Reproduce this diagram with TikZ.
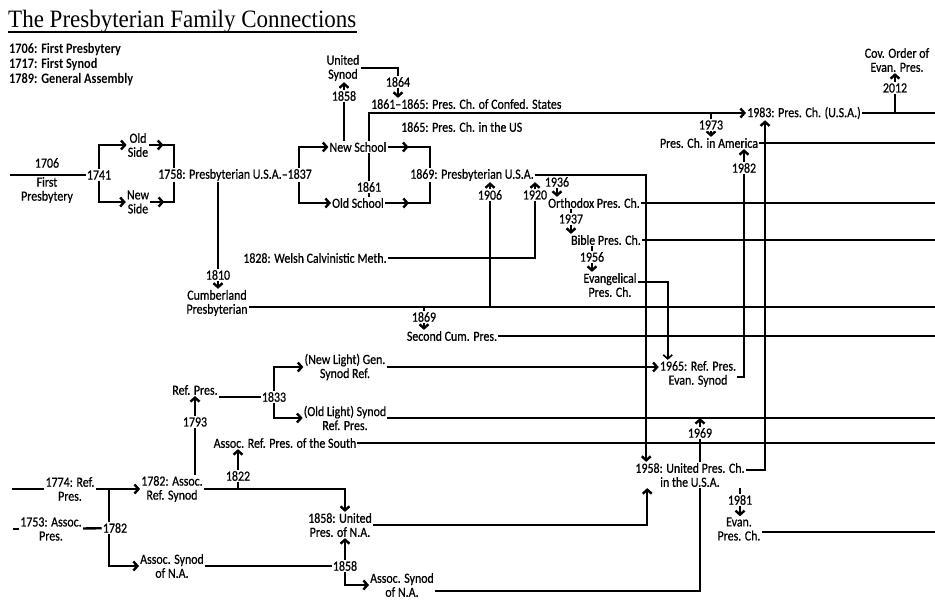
\documentclass[tikz,border=0pt]{standalone}
\usepackage{fontspec}
\setmainfont{Carlito}
\newfontfamily\lblfont{Carlito}[FakeBold=0.6, FakeStretch=0.85]
\newfontfamily\keyfont{Carlito}[FakeStretch=0.85]
\newfontfamily\titlefont{Liberation Serif}[FakeStretch=0.92]
\usetikzlibrary{backgrounds,arrows.meta}

\begin{document}
\begin{tikzpicture}
 [x=1pt, y=-1pt, >={Straight Barb[length=4pt,width=9pt]},
  lbl/.style={inner sep=1pt, fill=white, align=center, font=\lblfont\fontsize{14}{14}\selectfont},
  keyline/.style={anchor=west, inner sep=0pt, font=\keyfont\fontsize{14.5}{14}\selectfont\bfseries},
  link/.style={line width=2.4pt},
  thinlink/.style={line width=1.6pt},
  arr/.style={->, line width=2.4pt}]

\useasboundingbox (0,0) rectangle (935,601);

\node[anchor=base west, inner sep=0pt, font=\fontsize{25}{25}\selectfont\titlefont] (title) at (8,28) {The Presbyterian Family Connections};
\node[keyline] (leg1) at (9,50) {1706: First Presbytery};
\node[keyline] (leg2) at (9,65) {1717: First Synod};
\node[keyline] (leg3) at (9,80) {1789: General Assembly};

\node[lbl] (n1706) at (47,163) {1706};
\node[lbl] (firstp) at (47,190) {First\\Presbytery};
\node[lbl] (n1741) at (99,175) {1741};
\node[lbl] (oldside) at (138,145) {Old\\Side};
\node[lbl] (newside) at (138,202) {New\\Side};
\node[lbl] (n1758) at (235,175) {1758: Presbyterian U.S.A.\textendash1837};
\node[lbl] (n1810) at (218,275) {1810};
\node[lbl] (cumb) at (217,303) {Cumberland\\Presbyterian};
\node[lbl] (newschool) at (358,147) {New School};
\node[lbl] (oldschool) at (358,203) {Old School};
\node[lbl] (n1861) at (369,187) {1861};
\node[lbl] (unisyn) at (343,68) {United\\Synod};
\node[lbl] (n1858a) at (344,96) {1858};
\node[lbl] (n1864) at (398,82) {1864};
\node[lbl, anchor=west] (conf) at (370,104) {1861\textendash1865: Pres. Ch. of Confed. States};
\node[lbl, anchor=west] (pcus) at (400,127) {1865: Pres. Ch. in the US};
\node[lbl] (n1869) at (472,175) {1869: Presbyterian U.S.A.};
\node[lbl] (n1906) at (490,195) {1906};
\node[lbl] (n1920) at (535,195) {1920};
\node[lbl] (welsh) at (315,258) {1828: Welsh Calvinistic Meth.};
\node[lbl] (n1936) at (557,182) {1936};
\node[lbl] (orth) at (594,203) {Orthodox Pres. Ch.};
\node[lbl] (n1937) at (571,219) {1937};
\node[lbl] (bible) at (606,240) {Bible Pres. Ch.};
\node[lbl] (n1956) at (592,257) {1956};
\node[lbl] (evang) at (610,285) {Evangelical\\Pres. Ch.};
\node[lbl] (n1869b) at (424,317) {1869};
\node[lbl] (secondcum) at (452,336) {Second Cum. Pres.};
\node[lbl] (n1983) at (804,113) {1983: Pres. Ch. (U.S.A.)};
\node[lbl] (n1973) at (711,125) {1973};
\node[lbl] (pca) at (709,143) {Pres. Ch. in America};
\node[lbl] (n1982) at (744,168) {1982};
\node[lbl] (n2012) at (895,88) {2012};
\node[lbl] (cov) at (897,60) {Cov. Order of\\Evan. Pres.};
\node[lbl] (n1965) at (698,374) {1965: Ref. Pres.\\Evan. Synod};
\node[lbl] (rp1774) at (70,489) {1774: Ref.\\Pres.};
\node[lbl] (arsyn) at (172,489) {1782: Assoc.\\Ref. Synod};
\node[lbl] (ap1753) at (51,529) {1753: Assoc.\\Pres.};
\node[lbl] (n1782) at (115,528) {1782};
\node[lbl] (asynl) at (172,566) {Assoc. Synod\\of N.A.};
\node[lbl] (refpres) at (195,390) {Ref. Pres.};
\node[lbl] (n1793) at (195,422) {1793};
\node[lbl] (n1833) at (274,397) {1833};
\node[lbl] (nlight) at (345,367) {(New Light) Gen.\\Synod Ref.};
\node[lbl] (oldlight) at (345,418) {(Old Light) Synod\\Ref. Pres.};
\node[lbl] (south) at (285,443) {Assoc. Ref. Pres. of the South};
\node[lbl] (n1822) at (238,476) {1822};
\node[lbl] (un1858) at (340,525) {1858: United\\Pres. of N.A.};
\node[lbl] (n1858b) at (345,566) {1858};
\node[lbl] (asynr) at (402,585) {Assoc. Synod\\of N.A.};
\node[lbl] (n1958) at (690,475) {1958: United Pres. Ch.\\in the U.S.A.};
\node[lbl] (n1969) at (700,433) {1969};
\node[lbl] (n1981) at (740,500) {1981};
\node[lbl] (evanpc) at (739,529) {Evan.\\Pres. Ch.};

\coordinate (redge) at (935,0);
\coordinate (s1706) at (10,175);
\coordinate (j1758) at (174,175);
\coordinate (j1837) at (299,175);
\coordinate (j1869) at (430,175);
\coordinate (s1774) at (12,489);
\coordinate (s1753) at (13,529);
\coordinate (j1782) at (109,489);
\coordinate (cumbl) at ([yshift=-4pt]cumb.east);

\begin{scope}[on background layer]
\draw[line width=1.4pt] ([yshift=-4pt]title.base west) -- ([yshift=-4pt]title.base east);

\draw[link] (s1706) -- (n1741);
\draw[arr] (n1741) |- (oldside.west);
\draw[arr] (n1741) |- (newside.west);
\draw[link] (oldside.east) -| (j1758) |- (newside.east);
\draw[arr] (oldside.east) -- ++(14,0);
\draw[arr] (newside.east) -- ++(14,0);
\draw[arr] (j1837) |- (newschool.west);
\draw[arr] (j1837) |- (oldschool.west);
\draw[link] (newschool.east) -| (j1869) |- (oldschool.east);
\draw[arr] (newschool.east) -- ++(21,0);
\draw[arr] (oldschool.east) -- ++(24,0);

\draw[link] (n1758.south -| n1810) -- (n1810);
\draw[arr] (n1810) -- (n1810 |- cumb.north);
\draw[link] (cumbl) -- (cumbl -| redge);
\draw[link] (n1869b) -- (n1869b |- cumbl);
\draw[arr] (n1869b) -- (n1869b |- secondcum.north);
\draw[link] (secondcum.east) -- (secondcum.east -| redge);
\draw[link] (n1906) -- (n1906 |- cumbl);
\draw[arr] (n1906) -- (n1906 |- n1869.south);

\draw[link] (oldschool.north -| n1861) -- (n1861);
\draw[arr] (n1861) |- (n1983.west);
\draw[link] (newschool.north -| n1858a) -- (n1858a);
\draw[arr] (n1858a) -- (n1858a |- unisyn.south);
\draw[thinlink] (unisyn.east) -| (n1864);
\draw[arr] (n1864) -- (n1864 |- conf.north);

\draw[arr] (n1869.east) -| ([xshift=12pt]n1958.north west);
\draw[arr] (n1920) -- (n1920 |- n1869.south);
\draw[link] (n1920) |- (welsh.east);
\draw[link] (n1936) -- (n1936 |- n1869.east);
\draw[arr] (n1936) -- (n1936 |- orth.north);
\draw[link] (orth.east) -- (orth.east -| redge);
\draw[link] (n1937) -- (n1937 |- orth.south);
\draw[arr] (n1937) -- (n1937 |- bible.north);
\draw[link] (bible.east) -- (bible.east -| redge);
\draw[link] (n1956) -- (n1956 |- bible.south);
\draw[arr] (n1956) -- (n1956 |- evang.north);
\draw[arr, thinlink] ([yshift=3pt]evang.east) -| ([xshift=9pt]n1965.north west);

\draw[link] (n1983.east) -- (n1983.east -| redge);
\draw[link] (n1973) -- (n1973 |- n1983.east);
\draw[arr] (n1973) -- (n1973 |- pca.north);
\draw[link] (pca.east) -- (pca.east -| redge);
\draw[arr] (n1982) -- (n1982 |- pca.south);
\draw[link] ([yshift=-3pt]n1965.east) -| (n1982);
\draw[link] (n2012) -- (n2012 |- n1983.east);
\draw[arr] (n2012) -- (n2012 |- cov.south);
\draw[arr] ([yshift=5pt]n1958.east) -| ([xshift=19pt]n1983.south west);

\draw[link] (s1774) -- (rp1774);
\draw[arr] (rp1774) -- (arsyn);
\draw[link] (s1753) -- (ap1753);
\draw[link] (ap1753) -- (n1782);
\draw[arr] (j1782) |- (asynl.west);
\draw[link] (n1793) -- (n1793 |- arsyn.north);
\draw[arr] (n1793) -- (refpres);
\draw[link] (refpres.south east |- n1833) -- (n1833);
\draw[arr] (n1833) |- (nlight.west);
\draw[arr] (n1833) |- (oldlight.west);
\draw[arr] (nlight.east) -- (nlight.east -| n1965.west);
\draw[link] (oldlight.east) -- (oldlight.east -| redge);
\draw[link] (south.east) -- (south.east -| redge);
\draw[link] (n1822) -- (n1822 |- arsyn.east);
\draw[arr] (n1822) -- (n1822 |- south.south);
\draw[arr] (arsyn.east) -| (un1858.north -| n1858b);
\draw[link] (asynl.east) -- (n1858b);
\draw[arr] (n1858b) -- (n1858b |- un1858.south);
\draw[arr] (n1858b) |- (asynr.west);
\draw[arr] (un1858.east) -| ([xshift=13pt]n1958.south west);
\draw[link] ([yshift=-6pt]asynr.east) -| (n1969);
\draw[arr] (n1969) -- (n1969 |- oldlight.east);
\draw[link] (n1981) -- (n1981 |- n1958.south);
\draw[arr] (n1981) -- (n1981 |- evanpc.north);
\draw[link] ([yshift=-3pt]evanpc.east) -- ([yshift=-3pt]evanpc.east -| redge);
\end{scope}

\end{tikzpicture}
\end{document}
